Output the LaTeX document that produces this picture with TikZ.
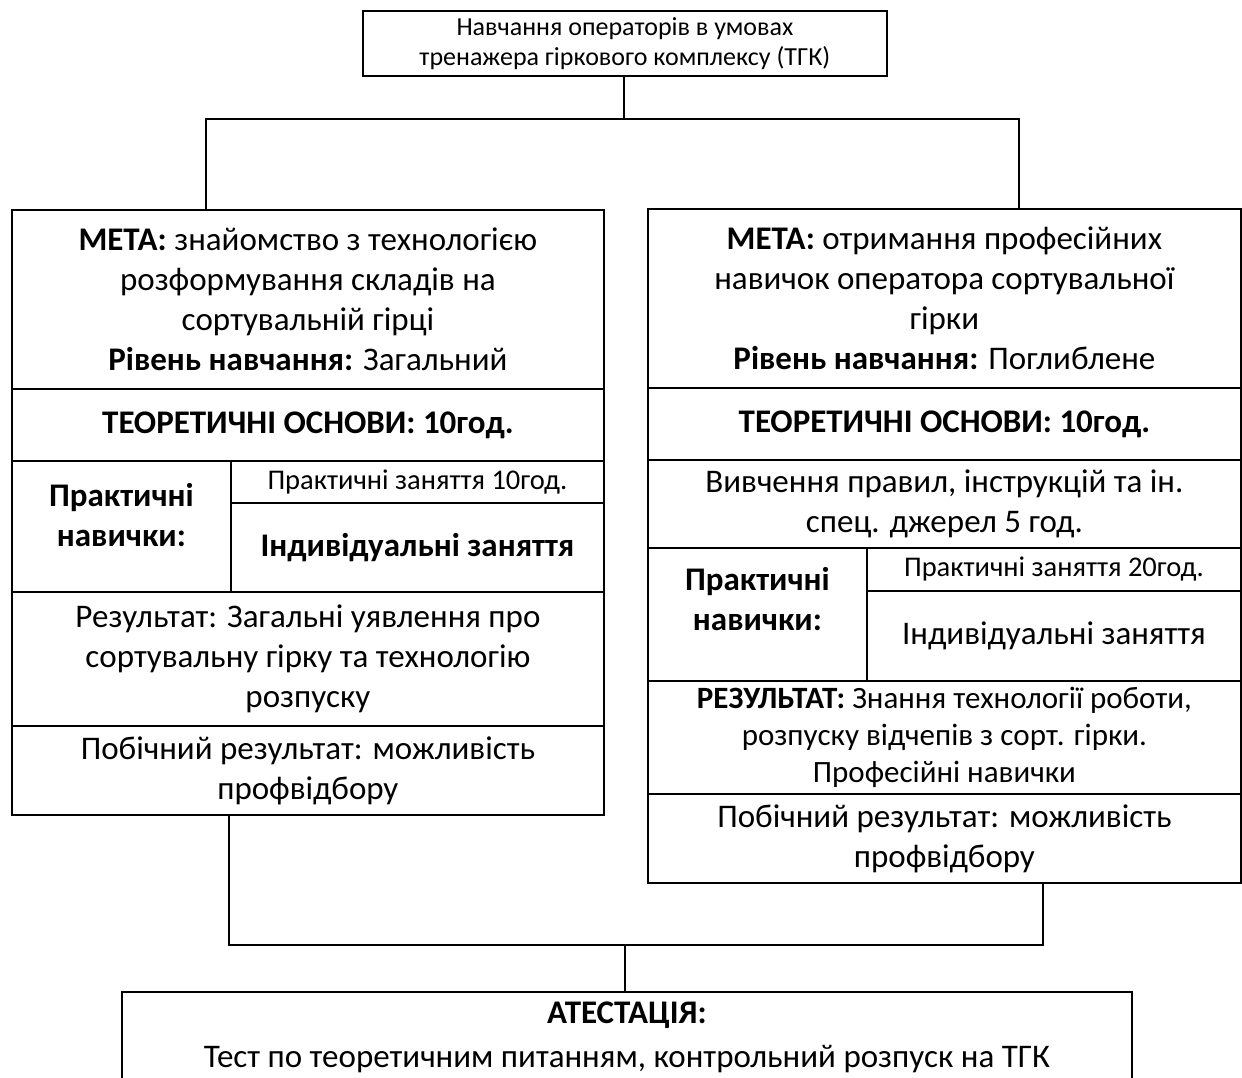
\documentclass[tikz,border=0pt]{standalone}
\usepackage{fontspec}
\setmainfont{Carlito}
\usepackage{tikz}
\usetikzlibrary{calc}

\tikzset{
  cell/.style={draw, line width=1.8pt, inner sep=0pt, anchor=north west, align=center,
    font=\fontsize{33}{40}\selectfont},
  smallcell/.style={cell, font=\fontsize{28.5}{30}\selectfont},
  celltext/.style={align=center, inner sep=0pt, font=\fontsize{33}{40}\selectfont\bfseries},
  wire/.style={line width=1.8pt}
}

\begin{document}
\begin{tikzpicture}[x=1pt,y=-1pt]
\useasboundingbox (0,0) rectangle (1242,1077);
\clip (0,0) rectangle (1242,1077);

% top
\node[cell, font=\fontsize{26}{30}\selectfont, minimum width=524, minimum height=65] (title) at (362,10)
  {Навчання операторів в умовах\\тренажера гіркового комплексу (ТГК)};

% left column
\node[cell, minimum width=592, minimum height=179] (lgoal) at (11,209)
  {\textbf{МЕТА:} знайомство з технологією\\розформування складів на\\сортувальній гірці\\\textbf{Рівень навчання:} Загальний};
\node[cell, minimum width=592, minimum height=72] (ltheory) at (11,388)
  {\textbf{ТЕОРЕТИЧНІ ОСНОВИ: 10год.}};
\node[cell, minimum width=219, minimum height=131] (lskill) at (11,460) {};
\node[celltext] (lskilltext) at ([yshift=11pt]lskill.center) {Практичні\\навички:};
\node[smallcell, minimum width=373, minimum height=42] (lhours) at (230,460)
  {Практичні заняття 10год.};
\node[cell, minimum width=373, minimum height=89] (lindiv) at (230,502)
  {\textbf{Індивідуальні заняття}};
\node[cell, minimum width=592, minimum height=134] (lresult) at (11,591)
  {Результат: Загальні уявлення про\\сортувальну гірку та технологію\\розпуску};
\node[cell, minimum width=592, minimum height=89] (lside) at (11,725)
  {Побічний результат: можливість\\профвідбору};

% right column
\node[cell, minimum width=593, minimum height=179] (rgoal) at (647,208)
  {\textbf{МЕТА:} отримання професійних\\навичок оператора сортувальної\\гірки\\\textbf{Рівень навчання:} Поглиблене};
\node[cell, minimum width=593, minimum height=72] (rtheory) at (647,387)
  {\textbf{ТЕОРЕТИЧНІ ОСНОВИ: 10год.}};
\node[cell, minimum width=593, minimum height=88] (rstudy) at (647,459)
  {Вивчення правил, інструкцій та ін.\\спец. джерел 5 год.};
\node[cell, minimum width=219, minimum height=133] (rskill) at (647,547) {};
\node[celltext] (rskilltext) at ([yshift=15pt]rskill.center) {Практичні\\навички:};
\node[smallcell, minimum width=374, minimum height=43] (rhours) at (866,547)
  {Практичні заняття 20год.};
\node[cell, minimum width=374, minimum height=90] (rindiv) at (866,590)
  {Індивідуальні заняття};
\node[cell, minimum width=593, minimum height=113, font=\fontsize{31}{37}\selectfont] (rresult) at (647,680)
  {\textbf{РЕЗУЛЬТАТ:} Знання технології роботи,\\розпуску відчепів з сорт. гірки.\\Професійні навички};
\node[cell, minimum width=593, minimum height=89] (rside) at (647,793)
  {Побічний результат: можливість\\профвідбору};

% bottom
\node[cell, minimum width=1010, minimum height=90, font=\fontsize{33}{44}\selectfont] (exam) at (121,991)
  {\textbf{АТЕСТАЦІЯ:}\\Тест по теоретичним питанням, контрольний розпуск на ТГК};

% connectors
\coordinate (fork) at (624,119);
\coordinate (lin) at (206,209);
\coordinate (rin) at (1019,208);
\coordinate (lout) at (229,814);
\coordinate (rout) at (1043,882);
\coordinate (join) at (625,945);
\draw[wire] (title.south -| fork) -- (fork);
\draw[wire] (lin) |- (fork) -| (rin);
\draw[wire] (lout) |- (join) -| (rout);
\draw[wire] (join) -- (join |- exam.north);
\end{tikzpicture}
\end{document}
